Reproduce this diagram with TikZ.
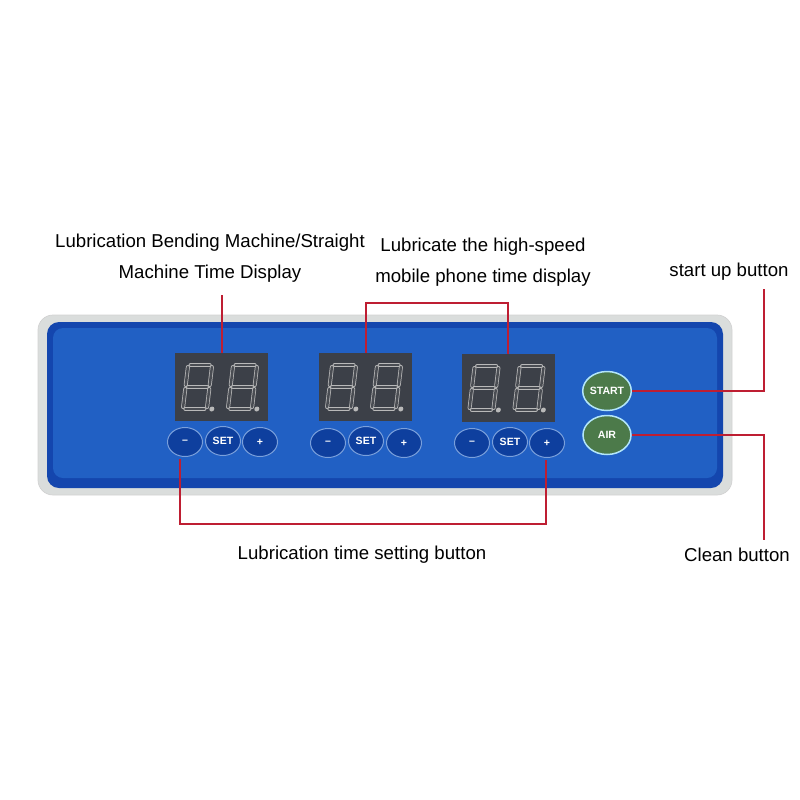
\documentclass[tikz,border=0pt]{standalone}
\usepackage{fontspec}
\setmainfont{Liberation Sans}
\usetikzlibrary{positioning,shapes.geometric,calc}
\definecolor{myred}{HTML}{BE1E32}
\definecolor{myblue}{HTML}{2160C4}
\definecolor{mydarkblue}{HTML}{1446AE}
\definecolor{mybtnblue}{HTML}{0E3F9E}
\definecolor{mygreen}{HTML}{4C7A4A}
\definecolor{mydisp}{HTML}{3C4048}
\definecolor{myframe}{HTML}{DADDDC}
\tikzset{
  lab/.style={font=\fontsize{10.6}{18}\selectfont, align=center, inner sep=1pt},
  redline/.style={draw=myred, line width=0.4mm},
  disp/.style={fill=mydisp, minimum width=18.6mm, minimum height=13.6mm, inner sep=0pt},
  seg/.style={draw=gray!55, double=mydisp!80!gray, double distance=0.5mm, line width=0.15mm, line cap=round},
  bluebtn/.style={ellipse, fill=mybtnblue, draw=myblue!60!white, line width=0.2mm, minimum width=7mm,
                  minimum height=5.8mm, inner sep=0pt, text=white, font=\fontsize{6}{6}\selectfont\bfseries},
  greenbtn/.style={ellipse, fill=mygreen, draw=cyan!30!white, line width=0.3mm, minimum width=9.6mm,
                   minimum height=7.8mm, inner sep=0pt, text=white, font=\fontsize{6}{6}\selectfont\bfseries},
}

\begin{document}
\begin{tikzpicture}[x=0.2mm, y=-0.2mm]
  \useasboundingbox (0,0) rectangle (800,800);
  % panel
  \fill[myframe, draw=gray!35, rounded corners=3mm] (38,315) rectangle (732,495);
  \fill[mydarkblue, rounded corners=2.4mm] (47,322) rectangle (723,488);
  \fill[myblue, rounded corners=2mm] (53,328) rectangle (717,478);
  % displays
  \node[disp] (disp1) at (221.5,387) {};
  \node[disp] (disp2) at (365.5,387) {};
  \node[disp] (disp3) at (508,388) {};
  \foreach \d in {disp1,disp2,disp3}{
    \foreach \dx in {-24,21}{
      \begin{scope}[shift={($(\d.center)+(\dx,0)$)}, xslant=0.12]
        \draw[seg] (-9.5,-22) -- (9.5,-22);
        \draw[seg] (-12,-20) -- (-12,-2);
        \draw[seg] (12,-20) -- (12,-2);
        \draw[seg] (-9.5,0) -- (9.5,0);
        \draw[seg] (-12,2) -- (-12,20);
        \draw[seg] (12,2) -- (12,20);
        \draw[seg] (-9.5,22) -- (9.5,22);
        \fill[gray!55] (17,22) circle (0.5mm);
      \end{scope}
    }
  }
  % buttons
  \node[bluebtn] (minus1) at (185,442) {--};
  \node[bluebtn] (set1) at (223,441) {SET};
  \node[bluebtn] (plus1) at (260,442) {+};
  \node[bluebtn] (minus2) at (328,443) {--};
  \node[bluebtn] (set2) at (366,441) {SET};
  \node[bluebtn] (plus2) at (404,443) {+};
  \node[bluebtn] (minus3) at (472,443) {--};
  \node[bluebtn] (set3) at (510,442) {SET};
  \node[bluebtn] (plus3) at (547,443) {+};
  \node[greenbtn] (start) at (607,391) {START};
  \node[greenbtn] (air) at (607,435) {AIR};
  % labels
  \node[lab] (bendlab) at (210,258) {Lubrication Bending Machine/Straight\\Machine Time Display};
  \node[lab] (phonelab) at (483,262) {Lubricate the high-speed\\mobile phone time display};
  \node[lab] (startlab) at (729,272) {start up button};
  \node[lab] (cleanlab) at (737,555) {Clean button};
  \node[lab] (setlab) at (362,555) {Lubrication time setting button};
  % leader lines
  \coordinate (topbar) at (0,303);
  \coordinate (botbar) at (0,524);
  \coordinate (rtop) at (764,289);
  \coordinate (rbot) at (764,540);
  \draw[redline] (disp1.north) -- ($(disp1.north |- bendlab.south)+(0,10)$);
  \draw[redline] (disp2.north) -- (disp2.north |- topbar) -| (disp3.north);
  \draw[redline] (start.east) -| (rtop);
  \draw[redline] (air.east) -| (rbot);
  \draw[redline] ($(minus1.south)+(-5,2)$) -- ($(minus1.south |- botbar)+(-5,0)$) -| ($(plus3.south)+(-1,2)$);
\end{tikzpicture}
\end{document}
